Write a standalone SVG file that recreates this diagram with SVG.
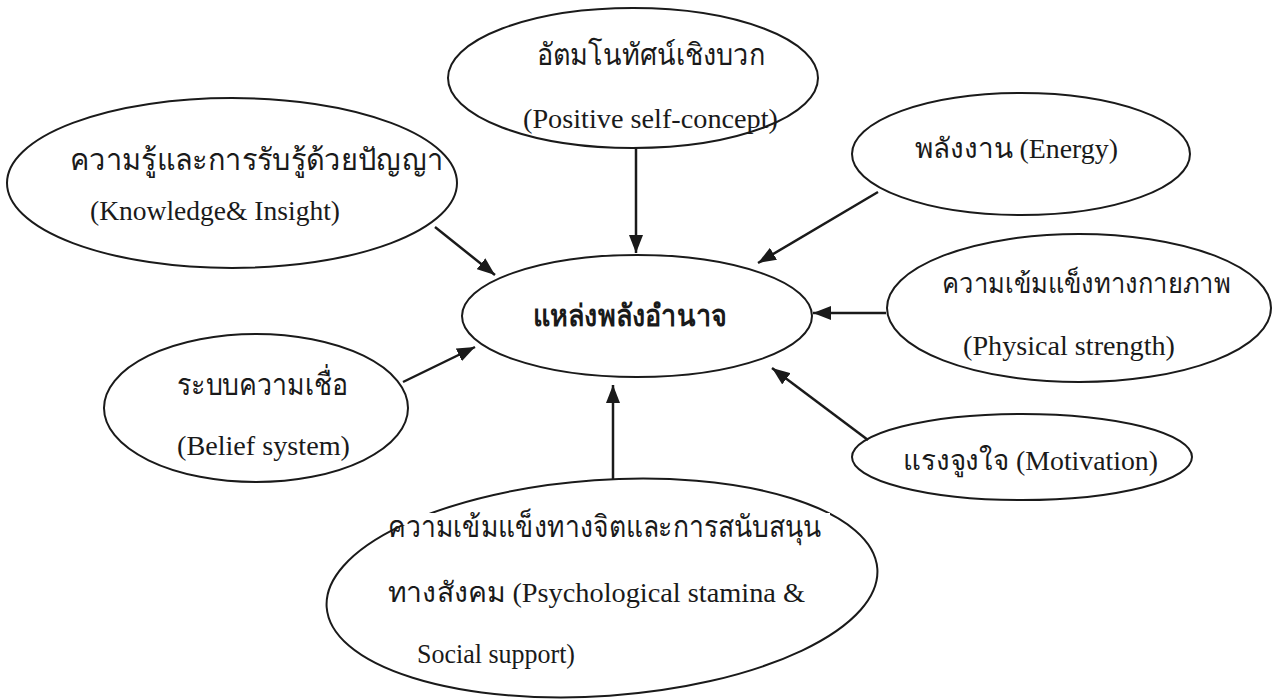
<svg xmlns="http://www.w3.org/2000/svg" width="1274" height="699" viewBox="0 0 1274 699">
<style>
.node ellipse{fill:none;stroke:#1a1a1a;stroke-width:2}
.t{font-family:"Liberation Serif","DejaVu Serif",serif;font-size:28px;fill:#1a1a1a}
.th{font-size:30px}
.b{font-weight:bold}
.conn line{stroke:#1a1a1a;stroke-width:2.5;marker-end:url(#ah)}
</style>
<defs>
<marker id="ah" markerUnits="userSpaceOnUse" markerWidth="20" markerHeight="14" refX="18" refY="7" orient="auto">
<path d="M0,0 L18,7 L0,14 z" fill="#1a1a1a"/>
</marker>
</defs>
<rect width="1274" height="699" fill="#ffffff"/>
<g id="connectors" class="conn">
<line x1="636" y1="148" x2="636" y2="253"/>
<line x1="435" y1="227" x2="495" y2="275"/>
<line x1="878" y1="192" x2="758" y2="263"/>
<line x1="886" y1="313" x2="813" y2="313"/>
<line x1="868" y1="440" x2="772" y2="368"/>
<line x1="403" y1="382" x2="475" y2="347"/>
<line x1="613" y1="480" x2="613" y2="385"/>
</g>
<g id="center" class="node">
<ellipse cx="637" cy="316" rx="175" ry="61"/>
<text class="t th b" x="533" y="326" textLength="194" lengthAdjust="spacingAndGlyphs">แหล่งพลังอำนาจ</text>
</g>
<g id="self-concept" class="node">
<ellipse cx="633" cy="78" rx="185" ry="70"/>
<text class="t th" x="537" y="65" textLength="228" lengthAdjust="spacingAndGlyphs">อัตมโนทัศน์เชิงบวก</text>
<text class="t" x="523" y="128" textLength="255" lengthAdjust="spacingAndGlyphs">(Positive self-concept)</text>
</g>
<g id="knowledge" class="node">
<ellipse cx="232" cy="183" rx="225" ry="85"/>
<text class="t th" x="70" y="170" textLength="373" lengthAdjust="spacingAndGlyphs">ความรู้และการรับรู้ด้วยปัญญา</text>
<text class="t" x="90" y="220" textLength="250" lengthAdjust="spacingAndGlyphs">(Knowledge&amp; Insight)</text>
</g>
<g id="energy" class="node">
<ellipse cx="1021" cy="154" rx="169" ry="61"/>
<text class="t" x="915" y="158" textLength="203" lengthAdjust="spacingAndGlyphs">พลังงาน (Energy)</text>
</g>
<g id="physical" class="node">
<ellipse cx="1079" cy="308" rx="192" ry="74"/>
<text class="t" x="942" y="293" textLength="288" lengthAdjust="spacingAndGlyphs">ความเข้มแข็งทางกายภาพ</text>
<text class="t" x="963" y="355" textLength="212" lengthAdjust="spacingAndGlyphs">(Physical strength)</text>
</g>
<g id="motivation" class="node">
<ellipse cx="1022" cy="457" rx="170" ry="43"/>
<text class="t" x="903" y="470" textLength="255" lengthAdjust="spacingAndGlyphs">แรงจูงใจ (Motivation)</text>
</g>
<g id="belief" class="node">
<ellipse cx="256" cy="408" rx="152" ry="74"/>
<text class="t th" x="177" y="395" textLength="171" lengthAdjust="spacingAndGlyphs">ระบบความเชื่อ</text>
<text class="t" x="177" y="455" textLength="173" lengthAdjust="spacingAndGlyphs">(Belief system)</text>
</g>
<g id="psychological" class="node">
<ellipse cx="602" cy="588" rx="276" ry="108" transform="rotate(-4 602 588)"/>
<rect x="378" y="513" width="452" height="12" fill="#ffffff"/>
<text class="t th" x="388" y="537" textLength="434" lengthAdjust="spacingAndGlyphs">ความเข้มแข็งทางจิตและการสนับสนุน</text>
<text class="t" x="388" y="602" textLength="417" lengthAdjust="spacingAndGlyphs">ทางสังคม (Psychological stamina &amp;</text>
<text class="t" x="417" y="663" textLength="158" lengthAdjust="spacingAndGlyphs">Social support)</text>
</g>
</svg>
